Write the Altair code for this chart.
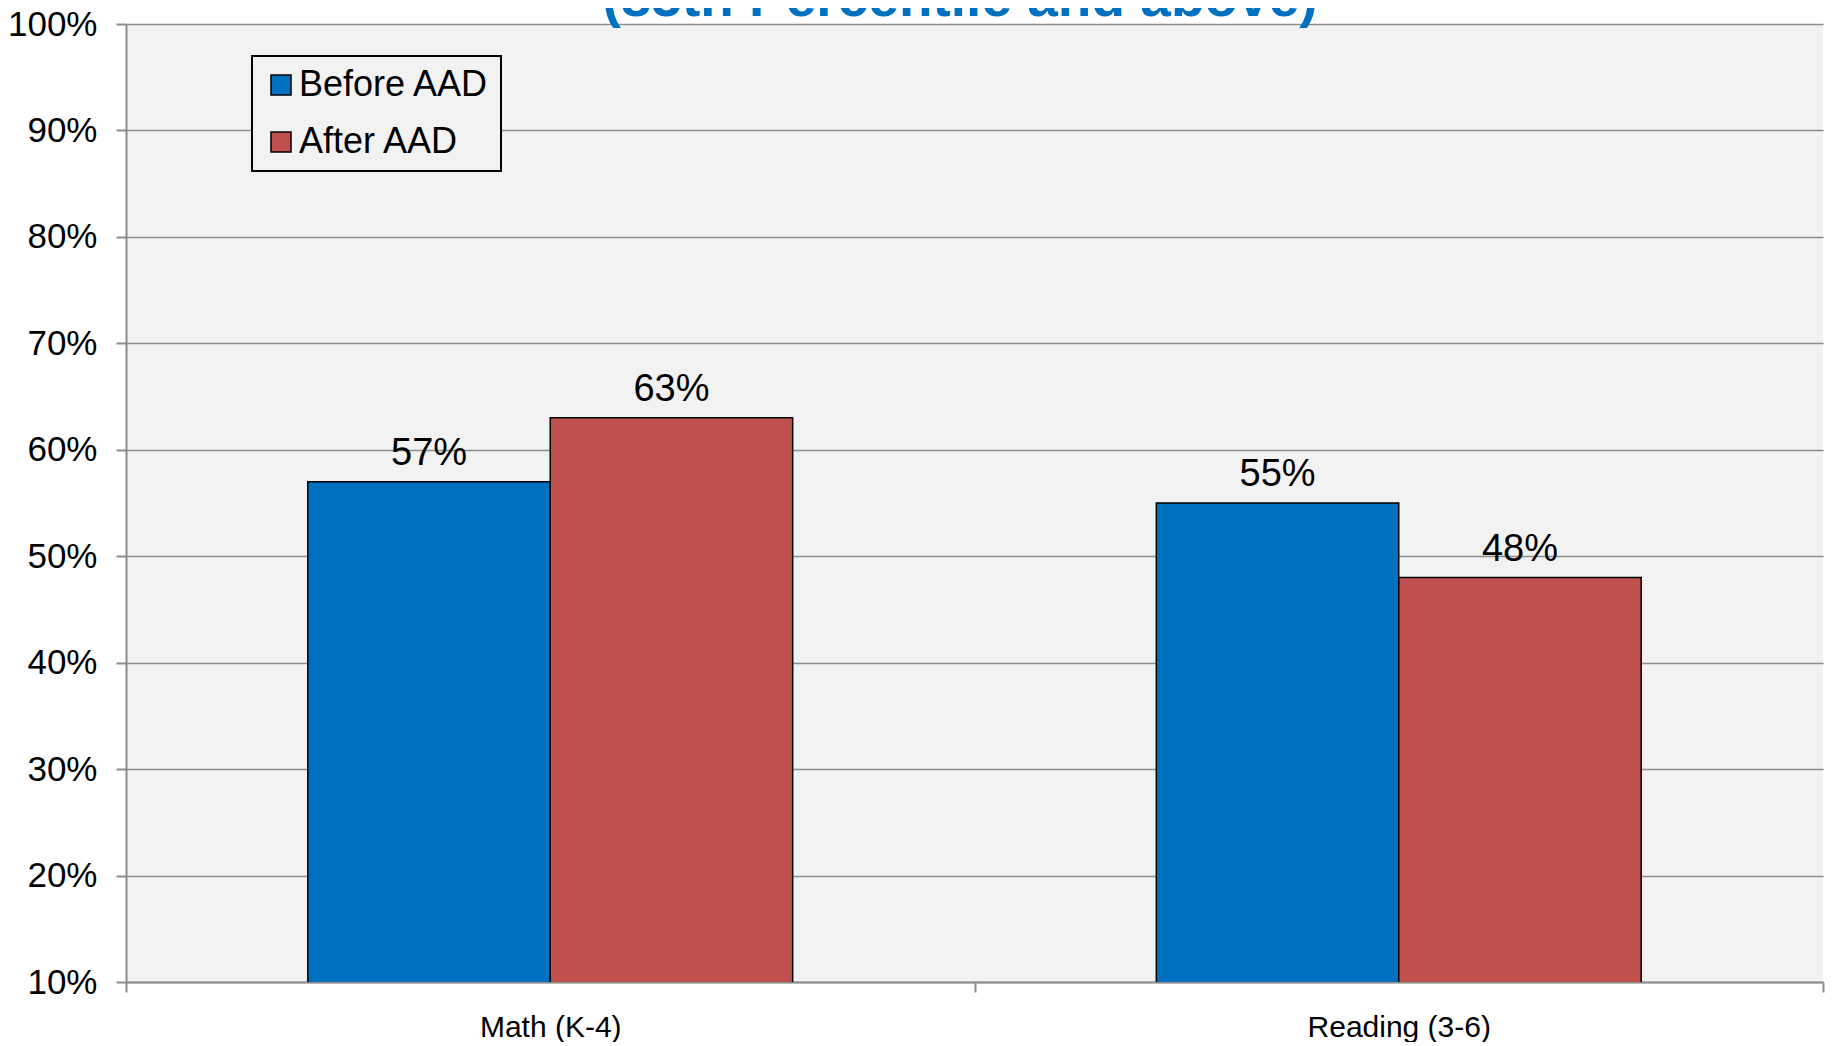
import altair as alt
import pandas as pd

subjects = ["Math (K-4)", "Math (K-4)", "Reading (3-6)", "Reading (3-6)"]
periods = ["Before AAD", "After AAD", "Before AAD", "After AAD"]
values = [0.57, 0.63, 0.55, 0.48]
labels = ["57%", "63%", "55%", "48%"]
y_ticks = [0.1, 0.2, 0.3, 0.4, 0.5, 0.6, 0.7, 0.8, 0.9, 1.0]
period_order = ["Before AAD", "After AAD"]
colors = ["#0070C0", "#C0504D"]
title_text = ["(85th Percentile and above)"]

df = pd.DataFrame({"subject": subjects, "period": periods, "value": values, "label": labels})
title_df = pd.DataFrame({"t": title_text})

FONT = "Liberation Sans"
GRID = "#8c8c8c"

x = alt.X(
    "subject:N",
    title=None,
    sort=["Math (K-4)", "Reading (3-6)"],
    scale=alt.Scale(paddingInner=0, paddingOuter=0),
    axis=alt.Axis(
        labelAngle=0, labelFontSize=30, labelFont=FONT, labelColor="#000000",
        labelPadding=20, labelLimit=0, domainColor=GRID, domainWidth=2,
        tickColor=GRID, tickWidth=2, tickSize=10, tickBand="extent", grid=False,
    ),
)
xoff = alt.XOffset(
    "period:N", sort=period_order,
    scale=alt.Scale(paddingInner=0, paddingOuter=0.75),
)
y = alt.Y(
    "value:Q",
    title=None,
    scale=alt.Scale(domain=[0.1, 1.0], nice=False, zero=False),
    axis=alt.Axis(
        values=y_ticks, format=".0%", labelFontSize=35, labelFont=FONT,
        labelColor="#000000", labelPadding=19, domainColor=GRID, domainWidth=2,
        tickColor=GRID, tickWidth=2, tickSize=10, gridColor=GRID, gridWidth=1.5,
    ),
)
color = alt.Color(
    "period:N", sort=period_order,
    scale=alt.Scale(domain=period_order, range=colors),
    legend=alt.Legend(
        title=None, orient="none", legendX=126, legendY=32,
        symbolType="square", symbolSize=400, symbolStrokeColor="#000000",
        symbolStrokeWidth=1.5, symbolOpacity=1,
        labelFontSize=36, labelFont=FONT, labelColor="#000000", labelOffset=0,
        labelLimit=0, rowPadding=21, padding=11, fillColor="#f2f2f2",
        strokeColor="#000000",
    ),
)

bars = alt.Chart(df).mark_bar(
    stroke="#000000", strokeWidth=1.5, clip=True
).encode(x=x, xOffset=xoff, y=y, color=color)

text = alt.Chart(df).mark_text(
    baseline="alphabetic", dy=-17, fontSize=38, font=FONT, color="#000000"
).encode(x=x, xOffset=xoff, y=y, text="label:N")

title = alt.Chart(title_df).mark_text(
    baseline="alphabetic", align="center", fontSize=55, font=FONT,
    fontWeight="bold", color="#0070C0",
).encode(text="t:N", x=alt.value(834), y=alt.value(-8))

chart = (bars + text + title).properties(
    width=1697, height=958,
    autosize=alt.AutoSizeParams(type="none"),
    padding={"left": 118, "top": 16, "right": 2, "bottom": 60},
).configure_view(
    fill="#f2f2f2", stroke=None
).configure_legend(
    strokeWidth=2
)

chart.save("out.html", embed_options={"renderer": "svg", "actions": False})
